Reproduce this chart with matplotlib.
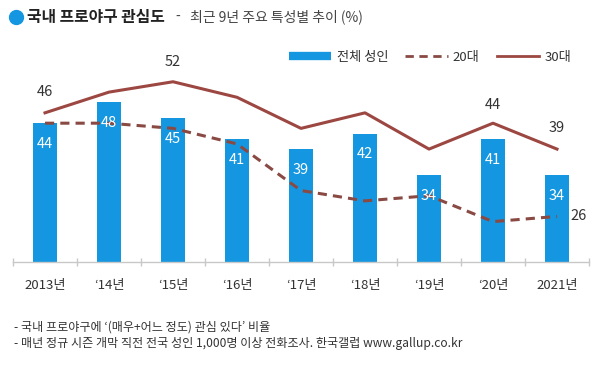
import numpy as np
import matplotlib
matplotlib.use('Agg')
import matplotlib.pyplot as plt
from matplotlib.lines import Line2D

plt.rcParams['font.family'] = ['Noto Sans CJK KR', 'DejaVu Sans']

# data
years = ['2013년', '\u201814년', '\u201815년', '\u201816년', '\u201817년',
         '\u201818년', '\u201819년', '\u201820년', '2021년']
total = [44, 48, 45, 41, 39, 42, 34, 41, 34]
age20 = [44, 44, 43, 40, 31, 29, 30, 25, 26]
age30 = [46, 50, 52, 49, 43, 46, 39, 44, 39]

blue = '#1497e0'
brown = '#9c4741'
dash_col = '#8a4a44'
grey_txt = '#333333'

fig = plt.figure(figsize=(6.04, 3.77), dpi=100)
ax = fig.add_axes([13/604, 115/377, 576/604, 202/377])

x = np.arange(len(years))
ax.bar(x, total, width=0.36, color=blue, zorder=2)
ax.plot(x, age20, color=dash_col, lw=2.2, ls=(0, (3, 2)), zorder=3)
ax.plot(x, age30, color=brown, lw=2.2, zorder=3)

ax.set_xlim(-0.5, len(years) - 0.5)
ax.set_ylim(17.2, 56.2)

# bar labels inside bars
for xi, v in zip(x, total):
    ax.annotate(str(v), (xi, v), xytext=(0, -15), textcoords='offset points',
                ha='center', va='center', color='white', fontsize=10.5, zorder=4)

# labelled points of the 30s line
for i, dy in [(0, 10), (2, 9), (7, 8), (8, 10)]:
    ax.annotate(str(age30[i]), (x[i], age30[i]), xytext=(0, dy),
                textcoords='offset points', ha='center', va='bottom',
                color=grey_txt, fontsize=10.5)
ax.annotate(str(age20[-1]), (x[-1], age20[-1]), xytext=(10, 0),
            textcoords='offset points', ha='left', va='center',
            color=grey_txt, fontsize=10.5)

# axis styling
for s in ['top', 'right', 'left']:
    ax.spines[s].set_visible(False)
ax.spines['bottom'].set_color('#c8c8c8')
ax.spines['bottom'].set_linewidth(1)
ax.set_yticks([])
ax.set_xticks(np.arange(-0.5, len(years), 1.0))
ax.set_xticklabels([])
ax.tick_params(axis='x', direction='inout', length=6, color='#c8c8c8', width=1)
for xi, lab in zip(x, years):
    ax.text(xi, -0.115, lab, transform=ax.get_xaxis_transform(),
            ha='center', va='center', fontsize=9.5, color=grey_txt)

# legend
handles = [Line2D([], [], color=blue, lw=6, solid_capstyle='butt'),
           Line2D([], [], color=dash_col, lw=2, ls=(0, (3, 2))),
           Line2D([], [], color=brown, lw=2)]
fig.legend(handles, ['전체 성인', '20대', '30대'], ncol=3, frameon=False,
           loc='center right', bbox_to_anchor=(0.965, 1 - 57/377),
           fontsize=9.5, handlelength=3.2, handletextpad=0.4,
           columnspacing=1.3, labelcolor=grey_txt)

# title
fig.add_artist(Line2D([16/604], [1 - 17/377], marker='o', markersize=10,
                      color=blue, transform=fig.transFigure))
fig.text(27/604, 1 - 17/377, '국내 프로야구 관심도', fontsize=11.4,
         fontweight='bold', color='#222222', va='center', ha='left')
fig.text(175/604, 1 - 17/377, '-', fontsize=10, color='#444444',
         va='center', ha='left')
fig.text(190/604, 1 - 17/377, '최근 9년 주요 특성별 추이 (%)', fontsize=10,
         color='#444444', va='center', ha='left')

# footnotes
fig.text(14/604, 1 - 327/377, "- 국내 프로야구에 \u2018(매우+어느 정도) 관심 있다\u2019 비율",
         fontsize=8.7, color=grey_txt, va='center', ha='left')
fig.text(14/604, 1 - 343/377,
         '- 매년 정규 시즌 개막 직전 전국 성인 1,000명 이상 전화조사. 한국갤럽 www.gallup.co.kr',
         fontsize=8.7, color=grey_txt, va='center', ha='left')

fig.savefig('out.png', dpi=100)
